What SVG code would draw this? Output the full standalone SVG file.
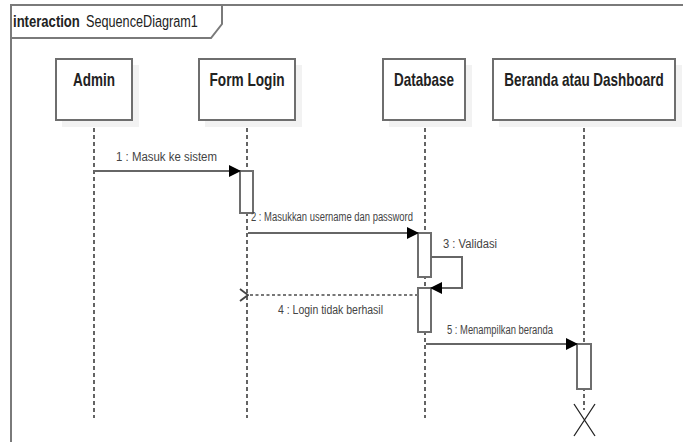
<svg xmlns="http://www.w3.org/2000/svg" width="683" height="442" viewBox="0 0 683 442">
<style>
.frame{fill:none;stroke:#7a7a7a;stroke-width:2}
.head{fill:#fff;stroke:#6e6e6e;stroke-width:2}
.shadow{fill:#f2f2f2;stroke:none}
.hname{font-family:"Liberation Sans",Arial,sans-serif;font-weight:bold;font-size:18px;fill:#222;text-anchor:middle}
.life{stroke:#111;stroke-width:1.3;stroke-dasharray:4 3;fill:none}
.act{fill:#fff;stroke:#6e6e6e;stroke-width:2}
.msg{stroke:#666;stroke-width:2;fill:none}
.ret{stroke:#777;stroke-width:2;stroke-dasharray:3 2.5;fill:none}
.lbl{font-family:"Liberation Sans",Arial,sans-serif;font-size:12px;fill:#444}
.title{font-family:"Liberation Sans",Arial,sans-serif;font-size:17px;fill:#222}
</style>
<defs>
<marker id="filled" markerWidth="12" markerHeight="12" refX="11" refY="6" orient="auto" markerUnits="userSpaceOnUse">
<path d="M0,0 L12,6 L0,12 Z" fill="#000"/>
</marker>
<marker id="open" markerWidth="12" markerHeight="14" refX="1" refY="7" orient="auto" markerUnits="userSpaceOnUse">
<path d="M9,1 L1,7 L9,13" fill="none" stroke="#444" stroke-width="1.8"/>
</marker>
</defs>
<g id="frame">
<path class="frame" d="M11,442 L11,5 L683,5"/>
<path class="frame" d="M11,38 L211,38 L222,24 L222,5"/>
<text class="title" transform="translate(13,27) scale(0.77,1)" x="0" y="0" font-weight="bold">interaction</text>
<text class="title" transform="translate(86,27) scale(0.745,1)" x="0" y="0">SequenceDiagram1</text>
</g>
<g id="lifelines">
<line class="life" x1="94" y1="121" x2="94" y2="418"/>
<line class="life" x1="247" y1="121" x2="247" y2="418"/>
<line class="life" x1="425" y1="121" x2="425" y2="418"/>
<line class="life" x1="584" y1="121" x2="584" y2="410"/>
</g>
<g id="node-admin">
<rect class="shadow" x="62" y="65" width="77" height="62"/>
<rect class="head" x="56" y="59" width="76" height="61"/>
<text class="hname" transform="translate(94,86) scale(0.75,1)" x="0" y="0">Admin</text>
</g>
<g id="node-formlogin">
<rect class="shadow" x="205" y="65" width="97" height="62"/>
<rect class="head" x="199" y="59" width="96" height="61"/>
<text class="hname" transform="translate(247,86) scale(0.758,1)" x="0" y="0">Form Login</text>
</g>
<g id="node-database">
<rect class="shadow" x="389" y="65" width="83" height="62"/>
<rect class="head" x="383" y="59" width="82" height="61"/>
<text class="hname" transform="translate(424,86) scale(0.75,1)" x="0" y="0">Database</text>
</g>
<g id="node-beranda">
<rect class="shadow" x="499" y="65" width="183" height="62"/>
<rect class="head" x="493" y="59" width="182" height="61"/>
<text class="hname" transform="translate(584,86) scale(0.75,1)" x="0" y="0">Beranda atau Dashboard</text>
</g>
<g id="activations">
<rect class="act" x="240" y="171" width="13" height="42"/>
<rect class="act" x="418" y="233" width="13" height="44"/>
<rect class="act" x="418" y="288" width="13" height="44"/>
<rect class="act" x="577" y="344" width="14" height="45"/>
</g>
<g id="connectors">
<line class="msg" x1="94" y1="171" x2="240" y2="171" marker-end="url(#filled)"/>
<line class="msg" x1="248" y1="233" x2="418" y2="233" marker-end="url(#filled)"/>
<path class="msg" d="M431,257 L462,257 L462,288 L431,288" marker-end="url(#filled)"/>
<line class="ret" x1="418" y1="295" x2="248" y2="295" marker-end="url(#open)"/>
<line class="msg" x1="426" y1="344" x2="577" y2="344" marker-end="url(#filled)"/>
<text class="lbl" x="116" y="161" textLength="101" lengthAdjust="spacingAndGlyphs">1 : Masuk ke sistem</text>
<text class="lbl" x="251" y="221" font-size="10.5" textLength="162" lengthAdjust="spacingAndGlyphs">2 : Masukkan username dan password</text>
<text class="lbl" x="443" y="248" textLength="54" lengthAdjust="spacingAndGlyphs">3 : Validasi</text>
<text class="lbl" x="278" y="314" font-size="11" textLength="105" lengthAdjust="spacingAndGlyphs">4 : Login tidak berhasil</text>
<text class="lbl" x="447" y="334" font-size="11" textLength="106" lengthAdjust="spacingAndGlyphs">5 : Menampilkan beranda</text>
</g>
<g id="destroy">
<path d="M574,404 L595,436 M595,404 L574,436" stroke="#222" stroke-width="1.3" fill="none"/>
</g>
</svg>
